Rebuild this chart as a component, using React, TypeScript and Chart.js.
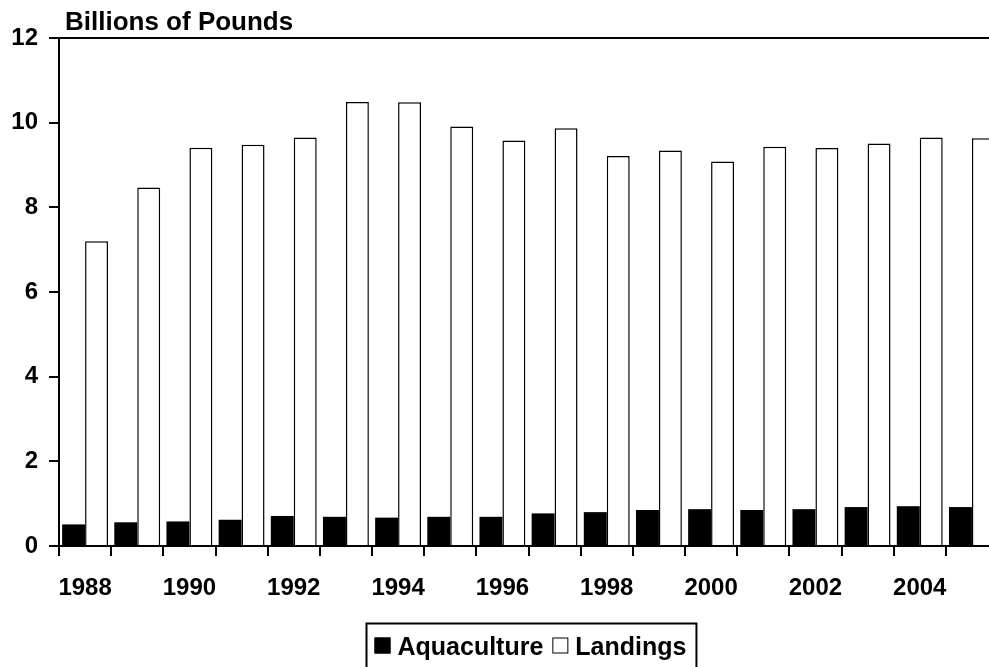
import React, { useEffect, useRef } from "react";
import { Chart, registerables } from "chart.js";

Chart.register(...registerables);

const categories = ["1988", "1989", "1990", "1991", "1992", "1993", "1994", "1995", "1996", "1997", "1998", "1999", "2000", "2001", "2002", "2003", "2004", "2005"];
const aquaculture = [0.51, 0.56, 0.58, 0.62, 0.71, 0.69, 0.67, 0.69, 0.69, 0.77, 0.8, 0.85, 0.87, 0.85, 0.87, 0.92, 0.94, 0.92];
const landings = [7.2, 8.47, 9.41, 9.48, 9.65, 10.49, 10.48, 9.91, 9.58, 9.87, 9.21, 9.34, 9.08, 9.43, 9.4, 9.51, 9.65, 9.63];
const yTicks = [0, 2, 4, 6, 8, 10, 12];
const titleText = "Billions of Pounds";

const FONT = '"Liberation Sans", Arial, Helvetica, sans-serif';

const titlePlugin = {
  id: "topTitle",
  afterDraw(chart: any) {
    const { ctx, chartArea } = chart;
    ctx.save();
    ctx.font = `bold 26px ${FONT}`;
    ctx.fillStyle = "#000";
    ctx.textBaseline = "alphabetic";
    ctx.textAlign = "left";
    ctx.fillText(titleText, chartArea.left + 6, chartArea.top - 8);
    ctx.restore();
  },
};

const boxLegendPlugin = {
  id: "boxLegend",
  afterDraw(chart: any) {
    const { ctx, chartArea } = chart;
    ctx.save();
    ctx.font = `bold 25px ${FONT}`;
    const sq = 16;
    const gapText = 7;
    const gapItem = 9;
    const padL = 8;
    const padR = 10;
    const items = chart.data.datasets.map((ds: any) => ({
      label: ds.label,
      fill: ds.backgroundColor,
      w: ctx.measureText(ds.label).width,
    }));
    let total = padL + padR;
    items.forEach((it: any, i: number) => {
      total += sq + gapText + it.w + (i < items.length - 1 ? gapItem : 0);
    });
    const cx = (chartArea.left + chartArea.right) / 2 + 2;
    const left = Math.round(cx - total / 2) + 0.5;
    const top = chartArea.bottom + 77.5;
    ctx.strokeStyle = "#000";
    ctx.lineWidth = 2;
    ctx.strokeRect(left, top, total, 80);
    let x = left + padL;
    const sqTop = top + 14;
    const baseline = top + 31;
    items.forEach((it: any) => {
      ctx.fillStyle = it.fill;
      ctx.fillRect(x, sqTop, sq, sq);
      ctx.lineWidth = 1;
      ctx.strokeStyle = "#000";
      ctx.strokeRect(x + 0.5, sqTop + 0.5, sq - 1, sq - 1);
      x += sq + gapText;
      ctx.fillStyle = "#000";
      ctx.textBaseline = "alphabetic";
      ctx.textAlign = "left";
      ctx.fillText(it.label, x, baseline);
      x += it.w + gapItem;
    });
    ctx.restore();
  },
};

export default function App() {
  const ref = useRef<HTMLCanvasElement | null>(null);

  useEffect(() => {
    if (!ref.current) return;
    const chart = new Chart(ref.current, {
      type: "bar",
      data: {
        labels: categories,
        datasets: [
          {
            label: "Aquaculture",
            data: aquaculture,
            backgroundColor: "#000000",
            borderColor: "#000000",
            borderWidth: 0,
            categoryPercentage: 0.88,
            barPercentage: 1.0,
          },
          {
            label: "Landings",
            data: landings,
            backgroundColor: "#ffffff",
            borderColor: "#000000",
            borderWidth: 1.5,
            categoryPercentage: 0.88,
            barPercentage: 1.0,
          },
        ],
      },
      options: {
        responsive: false,
        animation: false,
        devicePixelRatio: 1,
        layout: { padding: { left: 0, right: 2, top: 38, bottom: 100 } },
        plugins: {
          legend: { display: false },
          title: { display: false },
          tooltip: { enabled: false },
        },
        scales: {
          x: {
            offset: true,
            afterFit: (s: any) => {
              s.height = 54;
            },
            grid: {
              display: true,
              offset: true,
              drawOnChartArea: false,
              drawTicks: true,
              tickLength: 10,
              tickColor: "#000",
              tickWidth: 2,
              lineWidth: 2,
              color: "#000",
            },
            border: { display: true, color: "#000", width: 2 },
            ticks: {
              autoSkip: false,
              maxRotation: 0,
              minRotation: 0,
              padding: 18,
              color: "#000",
              font: { family: FONT, size: 24, weight: "bold" },
              callback: (_v: any, i: number) => (i % 2 === 0 ? categories[i] : ""),
            },
          },
          y: {
            min: 0,
            max: 12,
            afterFit: (s: any) => {
              s.width = 59;
            },
            afterBuildTicks: (s: any) => {
              s.ticks = yTicks.map((v) => ({ value: v }));
            },
            grid: {
              display: true,
              drawOnChartArea: true,
              drawTicks: true,
              tickLength: 10,
              tickColor: "#000",
              tickWidth: 2,
              lineWidth: 2,
              color: (c: any) => (c.tick && c.tick.value === 12 ? "#000" : "rgba(0,0,0,0)"),
            },
            border: { display: true, color: "#000", width: 2 },
            ticks: {
              padding: 11,
              color: "#000",
              font: { family: FONT, size: 24, weight: "bold" },
            },
          },
        },
      },
      plugins: [titlePlugin, boxLegendPlugin],
    } as any);
    return () => chart.destroy();
  }, []);

  return (
    <div
      style={{
        position: "fixed",
        left: 0,
        top: 0,
        width: 989,
        height: 667,
        overflow: "hidden",
        background: "#fff",
      }}
    >
      <canvas ref={ref} width={1000} height={700} style={{ display: "block", width: 1000, height: 700 }} />
    </div>
  );
}
